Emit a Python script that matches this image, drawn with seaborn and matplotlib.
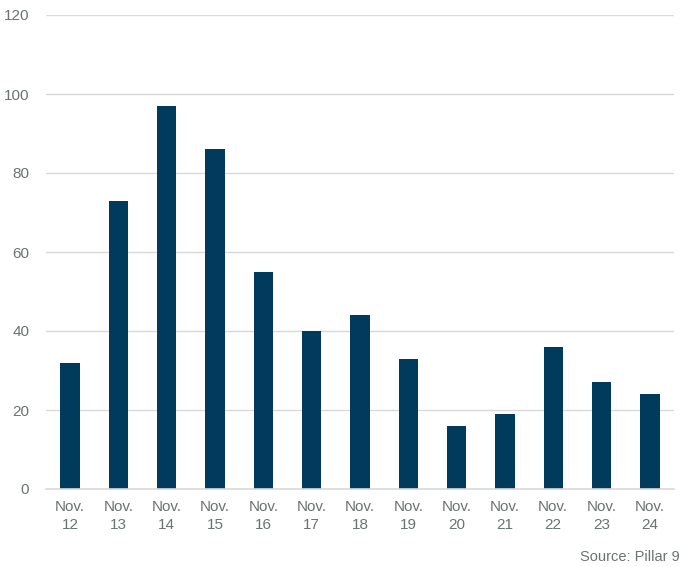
import matplotlib
matplotlib.use("Agg")
import matplotlib.pyplot as plt
import seaborn as sns
import pandas as pd

categories = ["Nov.\n12", "Nov.\n13", "Nov.\n14", "Nov.\n15", "Nov.\n16", "Nov.\n17", "Nov.\n18",
              "Nov.\n19", "Nov.\n20", "Nov.\n21", "Nov.\n22", "Nov.\n23", "Nov.\n24"]
values = [32, 73, 97, 86, 55, 40, 44, 33, 16, 19, 36, 27, 24]
y_ticks = [0, 20, 40, 60, 80, 100, 120]
source = "Source: Pillar 9"

sns.set_theme(style="white")
plt.rcParams["font.family"] = ["Liberation Sans", "DejaVu Sans"]

text_color = "#6b7371"
bar_color = "#003a5d"
grid_color = "#d9d9d9"

df = pd.DataFrame({"cat": categories, "val": values})

fig = plt.figure(figsize=(6.81, 5.67), dpi=100)
ax = fig.add_axes([46/681, 1 - 489/567, 628/681, 474/567])

sns.barplot(data=df, x="cat", y="val", color=bar_color, width=0.40, ax=ax,
            saturation=1, edgecolor=bar_color, linewidth=0)

ax.set_ylim(0, 120)
ax.set_xlim(-0.5, len(categories) - 0.5)
ax.set_yticks(y_ticks)
ax.yaxis.grid(True, color=grid_color, linewidth=1)
ax.set_axisbelow(True)
for s in ["top", "right", "left"]:
    ax.spines[s].set_visible(False)
ax.spines["bottom"].set_color(grid_color)
ax.spines["bottom"].set_linewidth(1.2)
ax.tick_params(axis="both", length=0, labelsize=11, labelcolor=text_color)
ax.tick_params(axis="y", pad=12)
ax.tick_params(axis="x", pad=8)
ax.set_xlabel("")
ax.set_ylabel("")
for lbl in ax.get_xticklabels():
    lbl.set_linespacing(1.35)

fig.text(680/681, 1 - 557/567, source, ha="right", va="center", fontsize=10.5, color=text_color)

fig.savefig("out.png", dpi=100)
